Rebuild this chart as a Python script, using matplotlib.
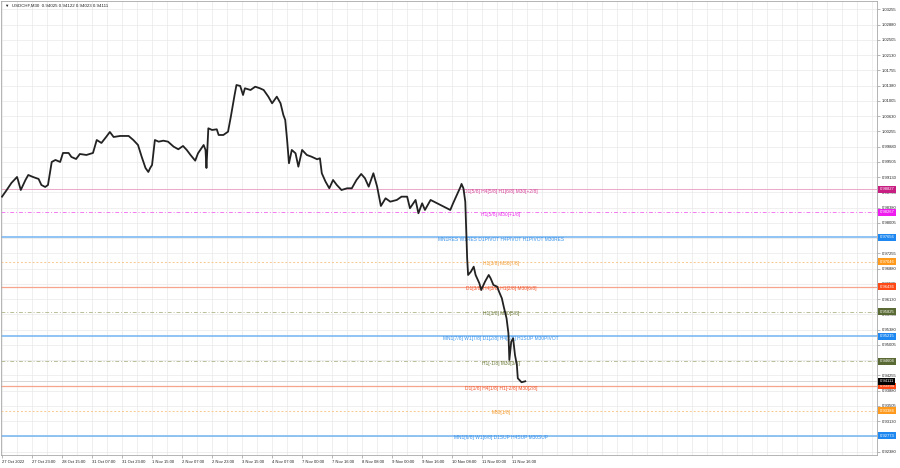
import matplotlib
matplotlib.use("Agg")
import matplotlib.pyplot as plt
import matplotlib.transforms as mtransforms

plt.rcParams['font.family'] = ['Liberation Sans', 'DejaVu Sans']

# close prices (bar index of the M30 series, price)
bars = [0, 5, 10, 16, 17, 20, 25, 28, 33, 39, 42, 46, 49, 53, 57, 62, 65, 71, 74, 79,
        83, 90, 97, 101, 106, 111, 115, 119, 126, 135, 140, 145, 149, 153, 156, 158, 160, 163, 167, 172,
        177, 183, 188, 193, 197, 201, 206, 209, 215, 217, 218, 220, 224, 229, 231, 236, 241, 244, 248, 250,
        254, 257, 259, 265, 270, 275, 279, 284, 288, 293, 297, 300, 302, 304, 306, 309, 313, 316, 320, 325,
        330, 336, 339, 341, 345, 349, 353, 357, 362, 368, 373, 378, 383, 387, 391, 396, 400, 404, 409, 414,
        421, 426, 432, 435, 441, 444, 448, 451, 457, 464, 471, 478, 481, 485, 489, 490, 492, 494, 496, 497,
        500, 503, 505, 509, 511, 515, 519, 521, 524, 528, 530, 533, 535, 538, 540, 541, 543, 545, 547, 549,
        550, 554, 558]
closes = [0.98649, 0.98813, 0.98985, 0.99133, 0.99059, 0.98813, 0.99059, 0.99182, 0.99133, 0.99084,
          0.98936, 0.98887, 0.98936, 0.99502, 0.99551, 0.99502, 0.99723, 0.99723, 0.99625, 0.99575,
          0.99698, 0.99674, 0.99723, 1.00042, 0.99969, 1.00116, 1.00239, 1.00116, 1.00141, 1.00141,
          1.00042, 0.99919, 0.99625, 0.99354, 0.99256, 0.99354, 0.99428, 1.00042, 1.00001, 1.00025,
          1.00001, 0.99878, 0.99814, 0.99895, 0.99797, 0.99674, 0.99534, 0.99715, 0.99919, 0.99797,
          0.99354, 1.00330, 1.00288, 1.00305, 1.00165, 1.00165, 1.00246, 1.00615, 1.01148, 1.01394,
          1.01370, 1.01148, 1.01313, 1.01271, 1.01352, 1.01313, 1.01271, 1.01107, 1.00944, 1.01107,
          1.00944, 1.00657, 1.00534, 1.00042, 0.99470, 0.99797, 0.99715, 0.99386, 0.99797, 0.99674,
          0.99632, 0.99568, 0.99593, 0.99224, 0.99017, 0.98855, 0.99059, 0.98936, 0.98813, 0.98855,
          0.98855, 0.99059, 0.99207, 0.99101, 0.98895, 0.99224, 0.98895, 0.98420, 0.98609, 0.98526,
          0.98568, 0.98649, 0.98649, 0.98364, 0.98568, 0.98241, 0.98486, 0.98322, 0.98568, 0.98486,
          0.98403, 0.98322, 0.98486, 0.98690, 0.98895, 0.98962, 0.98855, 0.98526, 0.97135, 0.96724,
          0.96805, 0.96928, 0.96724, 0.96520, 0.96355, 0.96559, 0.96724, 0.96643, 0.96478, 0.96436,
          0.96314, 0.96151, 0.95945, 0.95660, 0.95291, 0.94635, 0.95085, 0.95168, 0.94758, 0.94512,
          0.94185, 0.94087, 0.94111]

# Murrey math levels
level_prices = [0.98827, 0.98267, 0.97656, 0.97046, 0.96436, 0.95825, 0.95215, 0.94604,
                0.93994, 0.93384, 0.92773]
level_texts = ["D1[5/8] H4[5/8] H1[6/8] M30[+2/8]",
               "H1[5/8] M30[+1/8]",
               "MN1RES W1RES D1PIVOT H4PIVOT H1PIVOT M30RES",
               "H1[3/8] M30[7/8]",
               "D1[3/8] H4[3/8] H1[2/8] M30[6/8]",
               "H1[1/8] M30[5/8]",
               "MN1[7/8] W1[7/8] D1[2/8] H4[2/8] H1SUP M30PIVOT",
               "H1[-1/8] M30[3/8]",
               "D1[1/8] H4[1/8] H1[-2/8] M30[2/8]",
               "M30[1/8]",
               "MN1[6/8] W1[6/8] D1SUP H4SUP M30SUP"]
level_kind = ["pink", "magenta", "blue", "orange", "red", "olive", "blue", "olive",
              "red", "orange", "blue"]

current_price = 0.94111

price_ticks = [1.03255, 1.02880, 1.02505, 1.02130, 1.01755, 1.01380, 1.01005, 1.00630,
               1.00255, 0.99880, 0.99505, 0.99130, 0.98755, 0.98380, 0.98005, 0.97630,
               0.97255, 0.96880, 0.96505, 0.96130, 0.95755, 0.95380, 0.95005, 0.94630,
               0.94255, 0.93880, 0.93505, 0.93130, 0.92755, 0.92380]
# labels covered by the price boxes on the scale
hidden_ticks = [0.97630, 0.94630, 0.92755]
time_labels = ["27 Oct 2022", "27 Oct 23:00", "28 Oct 15:00", "31 Oct 07:00", "31 Oct 23:00",
               "1 Nov 15:00", "2 Nov 07:00", "2 Nov 23:00", "3 Nov 15:00", "4 Nov 07:00",
               "7 Nov 00:00", "7 Nov 16:00", "8 Nov 08:00", "9 Nov 00:00", "9 Nov 16:00",
               "10 Nov 08:00", "11 Nov 00:00", "11 Nov 16:00"]
time_label_bars = [0, 32, 64, 96, 128, 160, 192, 224, 256, 288, 320, 352, 384, 416, 448,
                   480, 512, 544]

styles = {
    "pink":    dict(line="#e8a9c8", ls="-",  lw=0.7, text="#d8419a", box="#c81e82"),
    "magenta": dict(line="#f27af2", ls=(0, (4, 2, 1, 2)), lw=0.7, text="#e82ae8", box="#ee1cee"),
    "blue":    dict(line="#7db9f2", ls="-",  lw=1.2, text="#3a94ec", box="#1e88f0"),
    "orange":  dict(line="#f7c98f", ls=(0, (2, 2)), lw=0.7, text="#f29a2e", box="#ff9a1c"),
    "red":     dict(line="#f6a48c", ls="-",  lw=0.9, text="#f0562c", box="#ff4a18"),
    "olive":   dict(line="#b9bf98", ls=(0, (4, 2, 1, 2)), lw=0.7, text="#6b7838", box="#5a6a34"),
}

fig = plt.figure(figsize=(9, 4.68), dpi=100)
ax = fig.add_axes([0.0011, 0.0278, 0.9733, 0.9701])
ax.set_xlim(-1.1, 933)
ax.set_ylim(0.92299, 1.03459)

# grid
for gx in range(0, 933, 16):
    ax.axvline(gx, color="#e9e9e9", lw=0.5, zorder=0)
for gy in price_ticks:
    ax.axhline(gy, color="#e9e9e9", lw=0.5, zorder=0)

# levels
below = mtransforms.offset_copy(ax.transData, fig=fig, x=0, y=-2, units="dots")
for p, t, k in zip(level_prices, level_texts, level_kind):
    s = styles[k]
    ax.axhline(p, color=s["line"], ls=s["ls"], lw=s["lw"], zorder=1)
    ax.text(532, p, t, transform=below, color=s["text"], fontsize=3.5,
            ha="center", va="center", zorder=2)
ax.axhline(current_price, color="#d0d0d0", lw=0.6, zorder=1)

# price
ax.plot(bars, closes, color="#222222", lw=1.3, zorder=3)

# axes decoration
for sp in ax.spines.values():
    sp.set_color("#a8a8a8")
    sp.set_linewidth(0.6)
ax.yaxis.tick_right()
ax.set_yticks(price_ticks)
ax.set_yticklabels(["" if v in hidden_ticks else f"{v:.5f}" for v in price_ticks])
ax.set_xticks(time_label_bars)
ax.set_xticklabels(time_labels)
for lab in ax.get_xticklabels():
    lab.set_horizontalalignment("left")
ax.tick_params(axis="both", labelsize=3, length=2, width=0.4, color="#808080",
               labelcolor="#202020", pad=1.5)

# price boxes on the right scale
for p, k in zip(level_prices, level_kind):
    ax.text(1.003, p, f"{p:.5f}", transform=ax.get_yaxis_transform(), fontsize=3,
            color="white", ha="left", va="center", zorder=5, clip_on=False,
            bbox=dict(boxstyle="square,pad=0.35", fc=styles[k]["box"], ec="none"))
ax.text(1.003, current_price, f"{current_price:.5f}", transform=ax.get_yaxis_transform(),
        fontsize=3, color="white", ha="left", va="center", zorder=6, clip_on=False,
        bbox=dict(boxstyle="square,pad=0.35", fc="black", ec="none"))

fig.text(0.006, 0.989, "\u25bc  USDCHF,M30  0.94025 0.94122 0.94023 0.94111",
         fontsize=3.2, color="#202020", ha="left", va="center")

fig.savefig("out.png", dpi=100, facecolor="white")
